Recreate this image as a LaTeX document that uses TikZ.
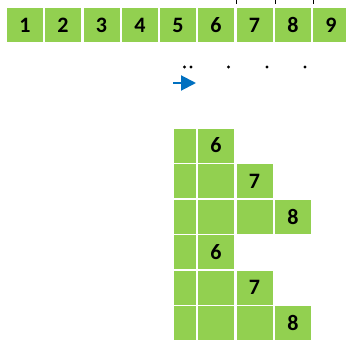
\documentclass[tikz,border=0pt]{standalone}
\usepackage{fontspec}
\setmainfont{Carlito}
\usetikzlibrary{arrows.meta}
\definecolor{cellgreen}{HTML}{92D050}
\definecolor{arrowblue}{HTML}{0070C0}
\begin{document}
\begin{tikzpicture}[x=1pt,y=-1pt,
  cell/.style={fill=cellgreen,draw=none,inner sep=0pt,minimum width=36pt,minimum height=34pt,font=\fontsize{22}{22}\selectfont\bfseries,text=black},
  narrow/.style={cell,minimum width=22pt},
  dot/.style={circle,fill=black,inner sep=0pt,minimum size=3.2pt},
  tick/.style={draw=black,line width=0.7pt}]
\useasboundingbox (0,0) rectangle (346,343);
% top row
\foreach \i/\x in {1/25,2/63,3/101.5,4/140,5/178,6/216,7/254.5,8/293,9/331}{
  \node[cell] (t\i) at (\x,25) {\raisebox{-1pt}{\i}};
}
% ticks at top
\foreach \x [count=\k] in {236,275,313}{
  \coordinate (ka\k) at (\x,0);
  \coordinate (kb\k) at (\x,3.5);
  \draw[tick] (ka\k) -- (kb\k);
}
% dots
\node[dot] (d1) at (184.5,67) {};
\node[dot] (d2) at (191,67) {};
\node[dot] (d3) at (228.5,67) {};
\node[dot] (d4) at (267,67) {};
\node[dot] (d5) at (305,67) {};
% arrow
\coordinate (a1) at (173,83);
\coordinate (a2) at (196,83);
\draw[arrowblue,line width=2pt,-{Triangle[length=15pt,width=15pt]}] (a1) -- (a2);
% lower grid
\foreach \r/\y/\n in {1/145.5/1,2/181/2,3/216.5/3,4/252/1,5/287.5/2,6/323/3}{
  \node[narrow] (r\r c0) at (185,\y) {};
  \ifnum\n=1
    \node[cell] (r\r c1) at (216,\y) {\raisebox{-1pt}{6}};
  \fi
  \ifnum\n=2
    \node[cell] (r\r c1) at (216,\y) {};
    \node[cell] (r\r c2) at (254.5,\y) {\raisebox{-1pt}{7}};
  \fi
  \ifnum\n=3
    \node[cell] (r\r c1) at (216,\y) {};
    \node[cell] (r\r c2) at (254.5,\y) {};
    \node[cell] (r\r c3) at (293,\y) {\raisebox{-1pt}{8}};
  \fi
}
\end{tikzpicture}
\end{document}
